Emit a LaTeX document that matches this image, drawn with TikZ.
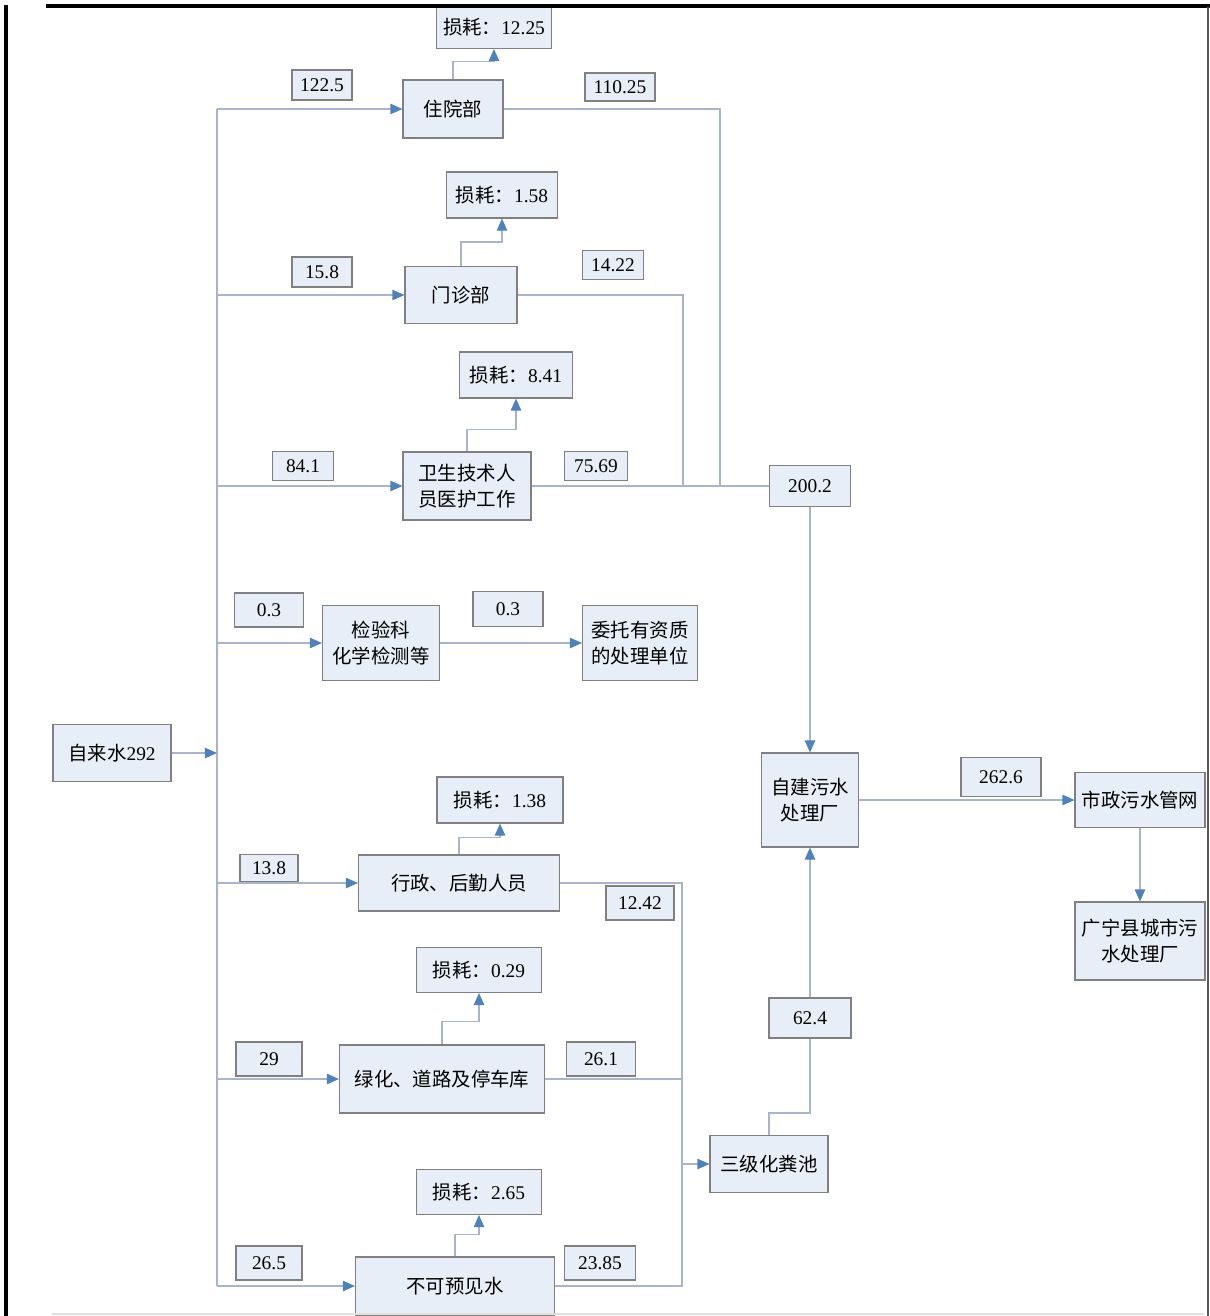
\documentclass[tikz,border=0pt]{standalone}
\usepackage{fontspec}
\setmainfont{Liberation Serif}
\newfontfamily\cjk{Noto Sans CJK SC}
\usetikzlibrary{arrows.meta, positioning}
\definecolor{boxfill}{RGB}{232,238,247}
\definecolor{boxline}{RGB}{128,128,128}
\definecolor{pipe}{RGB}{168,180,206}
\definecolor{tipblue}{RGB}{79,129,189}

\begin{document}
\begin{tikzpicture}[x=0.025cm, y=-0.025cm,
        every node/.style={font=\fontsize{13.8}{18.4}\selectfont},
        box/.style={draw=boxline, fill=boxfill, line width=0.8pt, inner sep=1pt, align=center},
        wh/.style 2 args={minimum width=#1*0.025cm, minimum height=#2*0.025cm},
        pipeline/.style={draw=pipe, line width=0.8pt},
        flow/.style={pipeline, -{Triangle[length=3mm, width=2.6mm, color=tipblue]}}
    ]
        \useasboundingbox (0,0) rectangle (1210,1316);

        % 用水单元
        \node [box, wh={118}{57}] (zls) at (112,753) {{\cjk 自来水}292};
        \node [box, wh={100}{58}] (zy) at (453,109) {\cjk 住院部};
        \node [box, wh={112}{57}] (mz) at (461,295) {\cjk 门诊部};
        \node [box, wh={128}{68}] (ws) at (467,486) {\cjk 卫生技术人\\\cjk 员医护工作};
        \node [box, wh={117}{75}] (jy) at (381,643) {\cjk 检验科\\\cjk 化学检测等};
        \node [box, wh={115}{75}] (wt) at (640,643) {\cjk 委托有资质\\\cjk 的处理单位};
        \node [box, wh={201}{56}] (xz) at (459,883) {\cjk 行政、后勤人员};
        \node [box, wh={205}{68}] (lh) at (442,1079) {\cjk 绿化、道路及停车库};
        \node [box, wh={199}{58}] (bk) at (455,1286) {\cjk 不可预见水};
        \node [box, wh={118}{57}] (shc) at (769,1164) {\cjk 三级化粪池};
        \node [box, wh={97}{94}] (zj) at (810,800) {\cjk 自建污水\\\cjk 处理厂};
        \node [box, wh={130}{55}] (sz) at (1140,800) {\cjk 市政污水管网};
        \node [box, wh={130}{78}] (gn) at (1140,941) {\cjk 广宁县城市污\\\cjk 水处理厂};

        % 损耗
        \node [box, wh={115}{43}] (loss1) at (494,27) {{\cjk 损耗：}12.25};
        \node [box, wh={111}{46}] (loss2) at (502,195) {{\cjk 损耗：}1.58};
        \node [box, wh={113}{46}] (loss3) at (516,375) {{\cjk 损耗：}8.41};
        \node [box, wh={126}{46}] (loss4) at (500,800) {{\cjk 损耗：}1.38};
        \node [box, wh={125}{45}] (loss5) at (479,970) {{\cjk 损耗：}0.29};
        \node [box, wh={125}{45}] (loss6) at (479,1192) {{\cjk 损耗：}2.65};

        % 水量
        \node [box, wh={60}{30}] (v1225) at (322,85) {122.5};
        \node [box, wh={70}{28}] (v11025) at (620,87) {110.25};
        \node [box, wh={60}{30}] (v158) at (322,272) {15.8};
        \node [box, wh={61}{29}] (v1422) at (613,265) {14.22};
        \node [box, wh={61}{29}] (v841) at (303,466) {84.1};
        \node [box, wh={63}{29}] (v7569) at (596,466) {75.69};
        \node [box, wh={81}{41}] (v2002) at (810,486) {200.2};
        \node [box, wh={69}{34}] (v03a) at (269,610) {0.3};
        \node [box, wh={70}{35}] (v03b) at (508,609) {0.3};
        \node [box, wh={80}{39}] (v2626) at (1001,777) {262.6};
        \node [box, wh={58}{27}] (v138) at (269,868) {13.8};
        \node [box, wh={68}{34}] (v1242) at (640,903) {12.42};
        \node [box, wh={66}{34}] (v29) at (269,1059) {29};
        \node [box, wh={69}{34}] (v261) at (601,1059) {26.1};
        \node [box, wh={82}{40}] (v624) at (810,1018) {62.4};
        \node [box, wh={66}{34}] (v265) at (269,1263) {26.5};
        \node [box, wh={71}{34}] (v2385) at (600,1263) {23.85};

        % 供水干管
        \coordinate (ttop) at (217,109);
        \coordinate (tbot) at (217,1286);
        \draw[pipeline] (ttop) -- (tbot);
        \draw[flow] (zls.east) -- (zls.east -| ttop);
        \draw[flow] (zy.west -| ttop) -- (zy.west);
        \draw[flow] (mz.west -| ttop) -- (mz.west);
        \draw[flow] (ws.west -| ttop) -- (ws.west);
        \draw[flow] (jy.west -| ttop) -- (jy.west);
        \draw[flow] (xz.west -| ttop) -- (xz.west);
        \draw[flow] (lh.west -| ttop) -- (lh.west);
        \draw[flow] (bk.west -| ttop) -- (bk.west);

        % 损耗
        \draw[flow] (zy.north) -- ++(0,-18) -| (loss1.south);
        \draw[flow] (mz.north) -- ++(0,-24) -| (loss2.south);
        \draw[flow] (ws.north) -- ++(0,-22) -| (loss3.south);
        \draw[flow] (xz.north) -- ++(0,-17) -| (loss4.south);
        \draw[flow] (lh.north) -- ++(0,-23) -| (loss5.south);
        \draw[flow] (bk.north) -- ++(0,-22) -| (loss6.south);

        % 排水
        \coordinate (m1) at (720,486);
        \coordinate (m2) at (683,486);
        \coordinate (m3) at (682,1164);
        \draw[pipeline] (zy.east) -| (m1);
        \draw[pipeline] (mz.east) -| (m2);
        \draw[pipeline] (ws.east) -- (v2002.west);
        \draw[flow] (v2002.south) -- (zj.north);
        \draw[flow] (jy.east) -- (wt.west);
        \draw[pipeline] (xz.east) -| (m3);
        \draw[pipeline] (lh.east) -| (m3);
        \draw[pipeline] (bk.east) -| (m3);
        \draw[flow] (m3) -- (shc.west);
        \draw[pipeline] (shc.north) -- ++(0,-22) -| (v624.south);
        \draw[flow] (v624.north) -- (zj.south);
        \draw[flow] (zj.east) -- (sz.west);
        \draw[flow] (sz.south) -- (gn.north);

        % 边框
        \draw[line width=2.6pt] (6,1316) -- (6,5);
        \draw[line width=2.4pt] (46,6) -- (1210,6);
        \draw[black!65, line width=1.2pt] (1208,7) -- (1208,1316);
        \draw[black!12, line width=1pt] (52,1314) -- (1204,1314);
    \end{tikzpicture}
\end{document}
